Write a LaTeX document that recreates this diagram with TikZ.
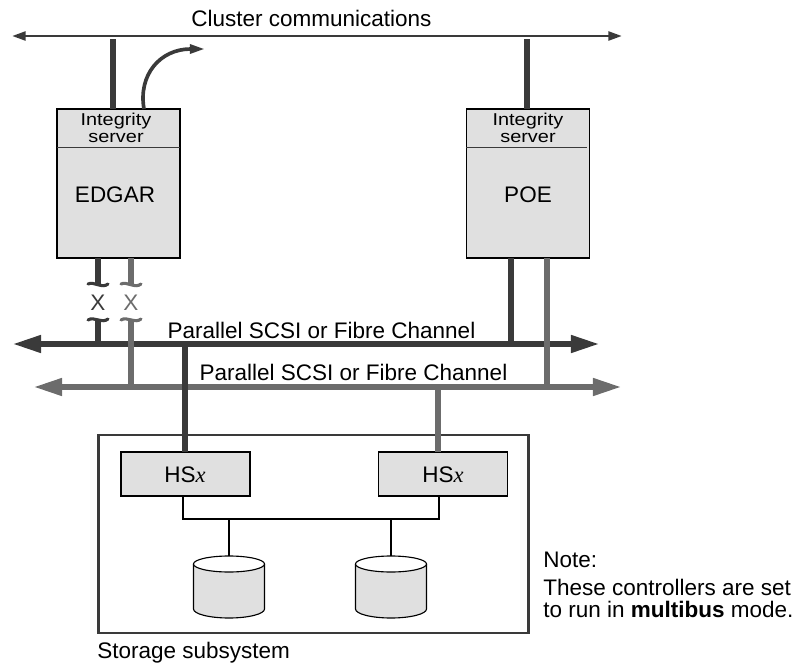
\documentclass[tikz,border=0pt]{standalone}
\usepackage{fontspec}
\setmainfont{Liberation Sans}
\newfontfamily\widefont[FakeStretch=1.16]{Liberation Sans}
\usetikzlibrary{arrows.meta}
\definecolor{darkline}{HTML}{3A3A3A}
\definecolor{lightline}{HTML}{6C6C6C}
\definecolor{boxfill}{HTML}{E0E0E0}
\tikzset{
    label text/.style={font=\fontsize{16}{18}\selectfont, inner sep=0pt},
    small text/.style={font=\widefont\fontsize{12.2}{12}\selectfont, inner sep=0pt, align=center},
    server/.style={draw=black, fill=boxfill, line width=0.9pt, minimum width=3.08cm, minimum height=3.72cm, inner sep=0pt, outer sep=0pt},
    hsx/.style={draw=black, fill=boxfill, line width=0.9pt, minimum width=3.22cm, minimum height=1.1cm, inner sep=0pt, outer sep=0pt},
    stub/.style={line width=3.6pt},
    wide bus/.style={line width=3.6pt, {Triangle[length=0.7cm, width=0.42cm]}-{Triangle[length=0.7cm, width=0.42cm]}},
    thin bus/.style={draw=darkline, line width=2pt, {Triangle[length=0.34cm, width=0.22cm]}-{Triangle[length=0.34cm, width=0.22cm]}},
    wire/.style={draw=black, line width=0.8pt}
}
\begin{document}
\begin{tikzpicture}[x=0.025cm, y=-0.025cm]
    \useasboundingbox (0, 0) rectangle (798, 665);

    \node[label text] (cluster) at (311.5, 18) {Cluster communications};
    \coordinate (clusterl) at (12, 36);
    \coordinate (clusterr) at (622, 36);
    \coordinate (clustera) at (113, 39);
    \coordinate (clusterb) at (527, 39);
    \coordinate (curvestart) at (144, 109);
    \coordinate (curveend) at (205, 49);
    \draw[thin bus] (clusterl) -- (clusterr);

    \node[server] (edgar) at (118.5, 183.5) {};
    \node[server] (poe) at (528, 183.5) {};
    \draw[draw=darkline, line width=0.7pt] (edgar.west |- 0, 147) -- (edgar.east |- 0, 147);
    \draw[draw=darkline, line width=0.7pt] (poe.west |- 0, 147) -- (587, 147);
    \node[small text] (edgartop) at (116, 127.5) {Integrity\\server};
    \node[small text] (poetop) at (528, 127.5) {Integrity\\server};
    \node[label text] (edgarname) at (115, 195) {EDGAR};
    \node[label text] (poename) at (528, 195) {POE};

    \draw[stub, draw=darkline] (clustera) -- (clustera |- edgar.north);
    \draw[stub, draw=darkline] (clusterb) -- (clusterb |- poe.north);
    \draw[draw=darkline, line width=2.6pt, -{Triangle[length=0.38cm, width=0.22cm]}] (curvestart) .. controls (138, 75) and (160, 49) .. (curveend);

    % buses
    \coordinate (darkl) at (13, 344);
    \coordinate (darkr) at (599, 344);
    \coordinate (lightl) at (34, 387);
    \coordinate (lightr) at (621, 387);
    \draw[wide bus, draw=lightline, fill=lightline] (lightl) -- (lightr);
    \draw[wide bus, draw=darkline, fill=darkline] (darkl) -- (darkr);
    \node[label text] (busa) at (321.5, 330) {Parallel SCSI or Fibre Channel};
    \node[label text] (busb) at (353.5, 372) {Parallel SCSI or Fibre Channel};

    % broken links below EDGAR
    \foreach \x/\c/\n/\e in {98/darkline/a/344, 131/lightline/b/387} {
        \coordinate (top\n) at (\x, 285);
        \coordinate (bot\n) at (\x, 319);
        \coordinate (end\n) at (\x, \e);
        \draw[stub, draw=\c] (\x, 258) -- (top\n);
        \draw[stub, draw=\c] (bot\n) -- (end\n);
        \draw[draw=\c, line width=2.2pt, line cap=round] (\x-10, 284) .. controls (\x-4, 281) and (\x+4, 289) .. (\x+10, 284);
        \draw[draw=\c, line width=2.2pt, line cap=round] (\x-10, 320) .. controls (\x-4, 316) and (\x+4, 324) .. (\x+10, 319);
        \node[label text, text=\c] (x\n) at (\x, 303) {X};
    }

    \coordinate (poea) at (511, 344);
    \coordinate (poeb) at (547, 387);
    \draw[stub, draw=darkline] (poea |- poe.south) -- (poea);
    \draw[stub, draw=lightline] (poeb |- poe.south) -- (poeb);

    % storage
    \node[draw=darkline, line width=1.6pt, minimum width=10.75cm, minimum height=4.95cm, inner sep=0pt, outer sep=0pt] (storage) at (313.5, 534) {};
    \node[label text, anchor=base west] (storagename) at (97, 658) {Storage subsystem};

    \node[hsx] (hsa) at (185.5, 474) {};
    \node[hsx] (hsb) at (443, 474) {};
    \node[label text] (hsaname) at (185, 475) {HS\textit{\fontspec{Liberation Serif}x}};
    \node[label text] (hsbname) at (443, 475) {HS\textit{\fontspec{Liberation Serif}x}};

    \coordinate (hsain) at (185, 344);
    \coordinate (hsbin) at (438, 387);
    \draw[stub, draw=darkline] (hsain) -- (hsain |- hsa.north);
    \draw[stub, draw=lightline] (hsbin) -- (hsbin |- hsb.north);

    \coordinate (joina) at (183, 519);
    \coordinate (joinb) at (439, 519);
    \draw[wire] (joina |- hsa.south) -- (joina) -- (joinb) -- (joinb |- hsb.south);
    \foreach \x/\n in {229/a, 391/b} {
        \coordinate (disk\n) at (\x, 556);
        \draw[wire] (disk\n |- joina) -- (disk\n);
        \draw[wire, fill=boxfill] (\x-35.5, 564) -- (\x-35.5, 609) arc[start angle=180, end angle=0, x radius=35.5, y radius=9] -- (\x+35.5, 564);
        \draw[wire, fill=white] (\x, 564) ellipse [x radius=35.5, y radius=8];
    }

    \node[label text, anchor=base west] (note) at (543, 567) {Note:};
    \node[label text, anchor=base west] (notea) at (543, 595) {These controllers are set};
    \node[label text, anchor=base west] (noteb) at (543, 617) {to run in \textbf{multibus} mode.};
\end{tikzpicture}
\end{document}
